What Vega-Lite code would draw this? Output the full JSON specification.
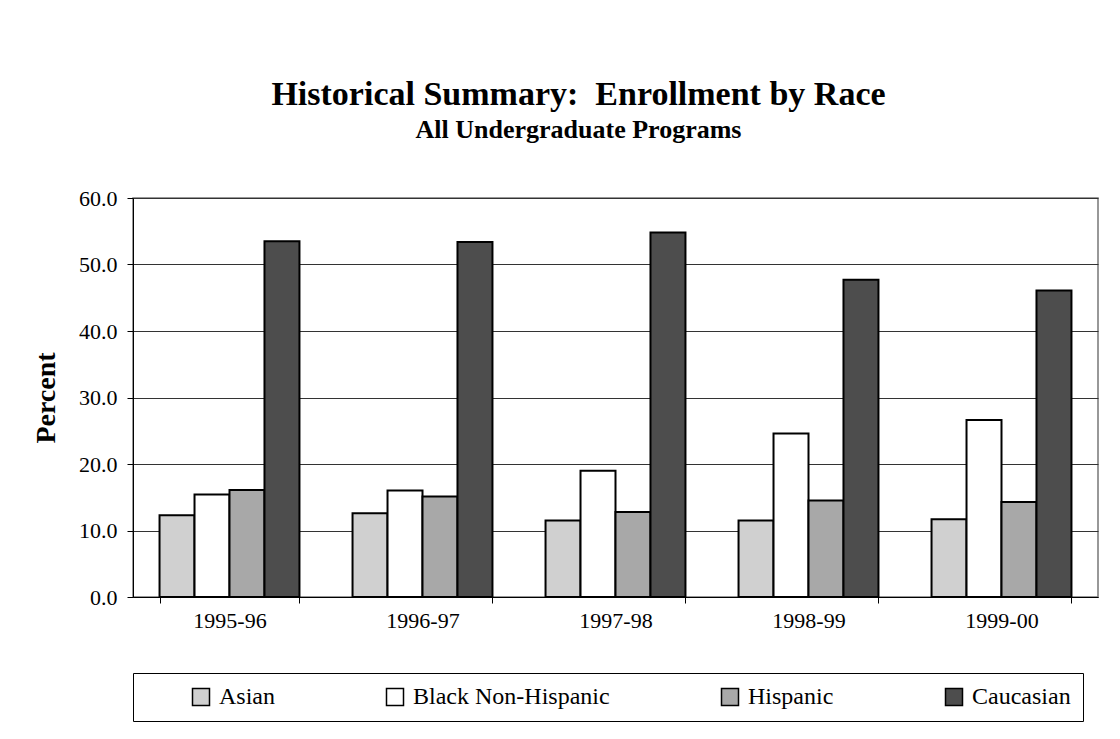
{
  "$schema": "https://vega.github.io/schema/vega-lite/v6.json",
  "autosize": {"type": "none"},
  "padding": {"left": 133, "top": 198, "right": 22, "bottom": 142},
  "width": 965,
  "height": 399,
  "background": "white",
  "title": {
    "text": "Historical Summary:\u00a0 Enrollment by Race",
    "subtitle": "All Undergraduate Programs",
    "anchor": "middle",
    "dx": -37,
    "offset": 44,
    "font": "Liberation Serif",
    "fontSize": 34,
    "fontWeight": "bold",
    "color": "black",
    "subtitleFont": "Liberation Serif",
    "subtitleFontSize": 26,
    "subtitleFontWeight": "bold",
    "subtitleColor": "black",
    "subtitlePadding": 5
  },
  "data": {
    "values": [
      {"year": "1995-96", "race": "Asian", "pct": 12.3},
      {"year": "1995-96", "race": "Black Non-Hispanic", "pct": 15.4},
      {"year": "1995-96", "race": "Hispanic", "pct": 16.1},
      {"year": "1995-96", "race": "Caucasian", "pct": 53.5},
      {"year": "1996-97", "race": "Asian", "pct": 12.6},
      {"year": "1996-97", "race": "Black Non-Hispanic", "pct": 16.0},
      {"year": "1996-97", "race": "Hispanic", "pct": 15.1},
      {"year": "1996-97", "race": "Caucasian", "pct": 53.4},
      {"year": "1997-98", "race": "Asian", "pct": 11.5},
      {"year": "1997-98", "race": "Black Non-Hispanic", "pct": 19.0},
      {"year": "1997-98", "race": "Hispanic", "pct": 12.8},
      {"year": "1997-98", "race": "Caucasian", "pct": 54.8},
      {"year": "1998-99", "race": "Asian", "pct": 11.5},
      {"year": "1998-99", "race": "Black Non-Hispanic", "pct": 24.6},
      {"year": "1998-99", "race": "Hispanic", "pct": 14.5},
      {"year": "1998-99", "race": "Caucasian", "pct": 47.7},
      {"year": "1999-00", "race": "Asian", "pct": 11.7},
      {"year": "1999-00", "race": "Black Non-Hispanic", "pct": 26.6},
      {"year": "1999-00", "race": "Hispanic", "pct": 14.3},
      {"year": "1999-00", "race": "Caucasian", "pct": 46.1}
    ]
  },
  "mark": {"type": "bar", "stroke": "black", "strokeWidth": 2},
  "encoding": {
    "x": {
      "field": "year",
      "type": "nominal",
      "sort": null,
      "scale": {"paddingInner": 0.275, "paddingOuter": 0.1375},
      "axis": {
        "title": null,
        "labelAngle": 0,
        "labelFont": "Liberation Serif",
        "labelFontSize": 22,
        "labelColor": "black",
        "labelPadding": 7,
        "tickBand": "extent",
        "tickSize": 6,
        "tickColor": "black",
        "domainColor": "black",
        "grid": false
      }
    },
    "xOffset": {
      "field": "race",
      "sort": ["Asian", "Black Non-Hispanic", "Hispanic", "Caucasian"],
      "scale": {"paddingInner": 0, "paddingOuter": 0}
    },
    "y": {
      "field": "pct",
      "type": "quantitative",
      "scale": {"domain": [0, 60], "nice": false},
      "axis": {
        "title": "Percent",
        "titleFont": "Liberation Serif",
        "titleFontSize": 28,
        "titleFontWeight": "bold",
        "titleColor": "black",
        "titlePadding": 18,
        "values": [0, 10, 20, 30, 40, 50, 60],
        "format": ".1f",
        "labelFont": "Liberation Serif",
        "labelFontSize": 22,
        "labelColor": "black",
        "labelPadding": 10,
        "tickSize": 6,
        "tickColor": "black",
        "domainColor": "black",
        "grid": true,
        "gridColor": "#333333",
        "gridWidth": 1
      }
    },
    "fill": {
      "field": "race",
      "type": "nominal",
      "sort": ["Asian", "Black Non-Hispanic", "Hispanic", "Caucasian"],
      "scale": {
        "domain": ["Asian", "Black Non-Hispanic", "Hispanic", "Caucasian"],
        "range": ["#d0d0d0", "#ffffff", "#a8a8a8", "#4d4d4d"]
      },
      "legend": {
        "title": null,
        "orient": "none",
        "legendX": 0,
        "legendY": 475,
        "direction": "horizontal",
        "symbolType": "square",
        "symbolSize": 289,
        "symbolStrokeColor": "black",
        "symbolStrokeWidth": 1.5,
        "symbolOffset": 44,
        "labelFont": "Liberation Serif",
        "labelFontSize": 24,
        "labelColor": "black",
        "labelOffset": 6,
        "labelLimit": 400,
        "columnPadding": 64,
        "padding": 12,
        "strokeColor": "black",
        "fillColor": "white"
      }
    }
  },
  "config": {
    "view": {"stroke": "#777777", "strokeWidth": 1.5}
  }
}
